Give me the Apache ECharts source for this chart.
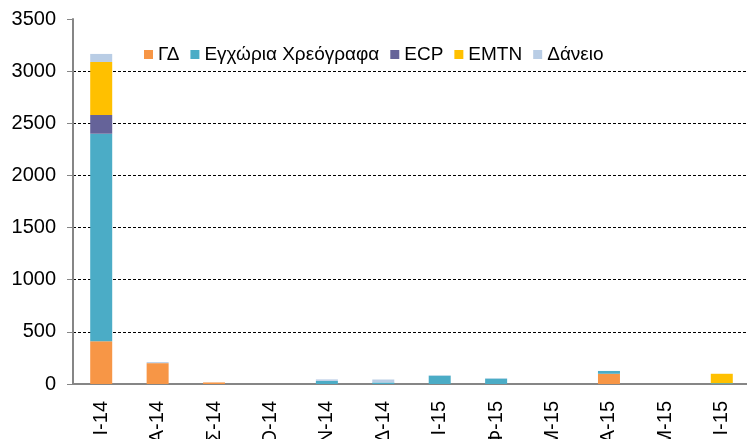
<!DOCTYPE html>
<html>
<head>
<meta charset="utf-8">
<script src="https://cdn.jsdelivr.net/npm/echarts@6/dist/echarts.min.js"></script>
<style>
	html, body{
		margin: 0;
		padding: 0;
		background: #fff;
	}
	#main{
		width: 747px;
		height: 439px;
	}
</style>
</head>
<body>
<div id="main"></div>
<script type="text/javascript">
// months Jul-14 .. Jun-15 (Greek initials)
var months = ['Ι-14', 'Α-14', 'Σ-14', 'Ο-14', 'Ν-14', 'Δ-14', 'Ι-15', 'Φ-15', 'Μ-15', 'Α-15', 'Μ-15', 'Ι-15'];
var seriesNames = ['ΓΔ', 'Εγχώρια Χρεόγραφα', 'ECP', 'EMTN', 'Δάνειο'];
var gd      = [410, 200, 15, 0, 0, 0, 0, 0, 0, 98, 0, 0];
var egxoria = [1990, 0, 0, 0, 30, 15, 80, 52, 0, 27, 0, 8];
var ecp     = [180, 0, 0, 0, 0, 0, 0, 0, 0, 0, 0, 0];
var emtn    = [508, 0, 0, 0, 0, 0, 0, 0, 0, 0, 0, 90];
var daneio  = [77, 10, 0, 0, 14, 28, 3, 3, 0, 0, 0, 0];
var colors = ['#F79646', '#4BACC6', '#656399', '#FFC000', '#B9CDE5'];

var myChart = echarts.init(document.getElementById('main'));

function bar(name, data){
	return {
		name: name,
		type: 'bar',
		stack: 'total',
		barWidth: 22,
		data: data
	};
}

var option = {
	animation: false,
	color: colors,
	textStyle: {
		fontFamily: 'Liberation Sans, Arial, sans-serif',
		color: '#000'
	},
	legend: {
		left: 139,
		top: 40,
		itemWidth: 9,
		itemHeight: 9,
		itemGap: 11,
		icon: 'rect',
		textStyle: {
			fontSize: 19,
			color: '#000'
		},
		data: seriesNames
	},
	grid: {
		left: 73,
		top: 19,
		bottom: 55,
		width: 677,
		containLabel: false,
		outerBoundsMode: 'none'
	},
	xAxis: {
		type: 'category',
		data: months,
		axisLine: {
			lineStyle: { color: '#868686', width: 2 }
		},
		axisTick: { show: false },
		axisLabel: {
			rotate: 90,
			fontSize: 20,
			color: '#000',
			margin: 17,
			interval: 0
		}
	},
	yAxis: {
		type: 'value',
		min: 0,
		max: 3500,
		interval: 500,
		axisLine: {
			show: true,
			lineStyle: { color: '#868686', width: 2 }
		},
		axisTick: {
			show: true,
			length: 6,
			lineStyle: { color: '#868686', width: 1 }
		},
		axisLabel: {
			fontSize: 20,
			color: '#000',
			margin: 17,
			formatter: function(v){ return String(v); }
		},
		splitLine: {
			show: true,
			lineStyle: {
				type: [3, 2],
				width: 1,
				color: ['#000', '#000', '#000', '#000', '#000', '#000', '#000', 'rgba(0,0,0,0)']
			}
		}
	},
	series: [
		bar(seriesNames[0], gd),
		bar(seriesNames[1], egxoria),
		bar(seriesNames[2], ecp),
		bar(seriesNames[3], emtn),
		bar(seriesNames[4], daneio)
	]
};

myChart.setOption(option);
</script>
</body>
</html>
